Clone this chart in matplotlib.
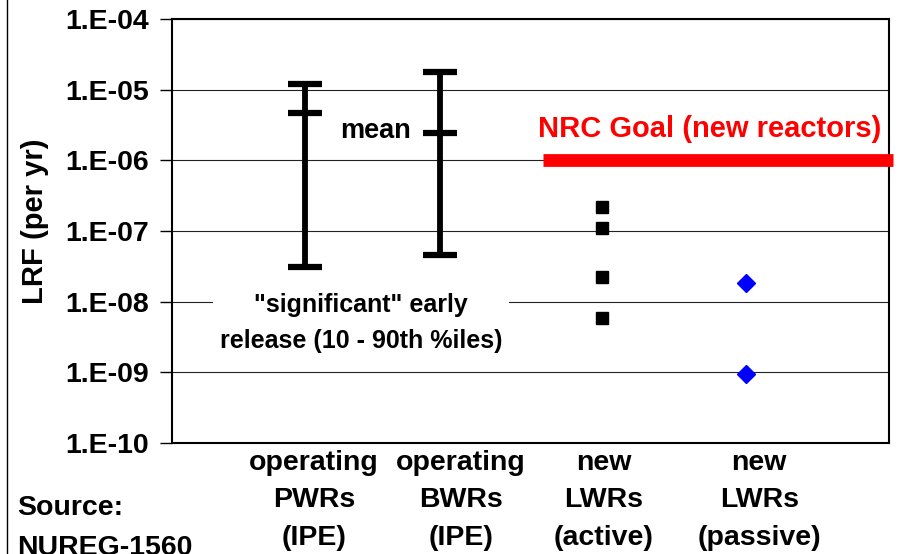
import numpy as np
import matplotlib.pyplot as plt
from matplotlib.lines import Line2D

plt.rcParams['font.family'] = ['Liberation Sans', 'DejaVu Sans']
plt.rcParams['font.weight'] = 'bold'

# -----------------------------
# data
# -----------------------------
categories = ["operating\nPWRs\n(IPE)", "operating\nBWRs\n(IPE)",
              "new\nLWRs\n(active)", "new\nLWRs\n(passive)"]
x_pos = [1.0, 1.92, 3.02, 4.0]          # where each group is drawn
label_x = [1.06, 2.06, 3.03, 4.09]      # where the group labels sit

# operating plants: 10th / 90th percentile and mean
ipe_low = [3.1e-8, 4.6e-8]
ipe_high = [1.2e-5, 1.75e-5]
ipe_mean = [4.7e-6, 2.45e-6]

# new designs: individual LRF estimates
active_lrf = [2.2e-7, 1.1e-7, 2.2e-8, 5.8e-9]
passive_lrf = [1.85e-8, 9.6e-10]

nrc_goal = 1e-6
goal_x = [2.62, 5.0]

ytick_vals = [1e-10, 1e-9, 1e-8, 1e-7, 1e-6, 1e-5, 1e-4]
ytick_labels = ["1.E-10", "1.E-09", "1.E-08", "1.E-07", "1.E-06", "1.E-05", "1.E-04"]

# -----------------------------
# figure
# -----------------------------
fig = plt.figure(figsize=(9.01, 5.54), dpi=100)
ax = fig.add_axes([172 / 901, 1 - 443 / 554, 717 / 901, 424 / 554])

ax.set_yscale('log')
ax.set_ylim(1e-10, 1e-4)
ax.set_xlim(0.095, 4.973)

# horizontal grid
for v in ytick_vals:
    ax.axhline(v, color='#222222', lw=0.8, zorder=1)

# error bars for operating plants
for i in range(2):
    x = x_pos[i]
    ax.plot([x, x], [ipe_low[i], ipe_high[i]], color='black', lw=4.2,
            solid_capstyle='butt', zorder=3)
    ax.plot([x, x, x], [ipe_low[i], ipe_high[i], ipe_mean[i]], ls='none',
            marker='_', ms=24, mew=4.5, color='black', zorder=3)

# new designs
ax.plot([x_pos[2]] * len(active_lrf), active_lrf, 's', color='black', ms=8, zorder=4)
ax.plot([x_pos[3]] * len(passive_lrf), passive_lrf, 'D', color='#0000FF', ms=9,
        mec='#0000FF', zorder=4)

# NRC goal
ax.plot(goal_x, [nrc_goal, nrc_goal], color='#FF0000', lw=9.2,
        solid_capstyle='butt', clip_on=False, zorder=5)
ax.text(3.755, 2.8e-6, "NRC Goal (new reactors)", color='#FF0000',
        fontsize=21, ha='center', va='center', zorder=6)

# annotations
ax.text(1.48, 2.6e-6, "mean", fontsize=19.5, ha='center', va='center', zorder=6)
ax.text(1.38, 5.0e-9, "\"significant\" early\nrelease (10 - 90th %iles)",
        fontsize=18, ha='center', va='center', linespacing=1.6,
        bbox=dict(facecolor='white', edgecolor='none', pad=5), zorder=2)

# axes styling
ax.set_yticks(ytick_vals)
ax.set_yticklabels(ytick_labels, fontsize=20.5)
ax.minorticks_off()
ax.tick_params(axis='y', direction='out', length=9, width=1, pad=7.5)
ax.set_xticks([])
for s in ax.spines.values():
    s.set_linewidth(1.5)
ax.set_ylabel("LRF (per yr)", fontsize=21, fontweight='bold')
ax.yaxis.set_label_coords(-123 / 717, 0.524)

# category labels under the axis
for lx, lab in zip(label_x, categories):
    ax.text(lx, -0.017, lab, transform=ax.get_xaxis_transform(), fontsize=20.5,
            ha='center', va='top', linespacing=1.56)

fig.text(17 / 901, 1 - 508 / 554, "Source:", fontsize=20.5, ha='left', va='center')
fig.text(17 / 901, 1 - 548 / 554, "NUREG-1560", fontsize=20.5, ha='left', va='center')

# thin frame line at the left edge
fig.add_artist(Line2D([7 / 901, 7 / 901], [0, 1], color='black', lw=1))

fig.savefig("out.png", dpi=100)
